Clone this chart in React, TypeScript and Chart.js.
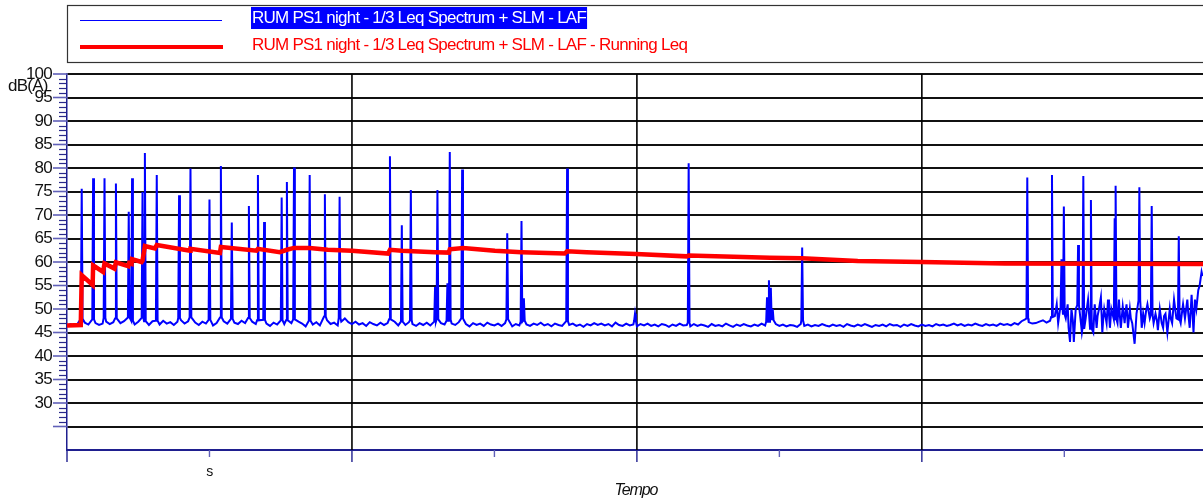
import React, { useEffect, useRef } from 'react';
import { Chart, registerables } from 'chart.js';

Chart.register(...registerables);

// ---------- DATA (time in minutes, level in dB(A)) ----------
const X_MIN = 0;
const X_MAX = 239.2;
const Y_MIN = 20;
const Y_MAX = 100;

const xTickValues = [0, 30, 60, 90, 120, 150, 180, 210];
const xTickLabels: Record<number, string> = { 30: 's' };
const yHiddenLabels = [20, 25];

const LEGEND_LAF = 'RUM PS1 night - 1/3 Leq Spectrum + SLM - LAF';
const LEGEND_LEQ = 'RUM PS1 night - 1/3 Leq Spectrum + SLM - LAF - Running Leq';
const Y_TITLE = 'dB(A)';
const X_TITLE = 'Tempo';

// LAF background level, one reading every 0.75 min from t = 0 to 207
const BASE_STEP = 0.75;
const lafBaseline = [
  46.4, 46.8, 46.5, 46.9, 46.6, 47.1, 46.7, 46.5, 47.0, 46.6,
  46.9, 47.3, 46.8, 47.2, 46.6, 47.0, 47.4, 46.9, 47.2, 46.7,
  47.3, 46.8, 47.1, 46.6, 47.4, 47.0, 46.7, 47.5, 46.9, 47.2,
  46.6, 47.3, 47.6, 46.9, 47.4, 46.8, 47.1, 46.6, 47.3, 46.9,
  47.2, 46.5, 47.0, 46.7, 47.4, 46.9, 46.4, 47.1, 46.8, 47.5,
  47.0, 46.6, 47.3, 46.8, 46.5, 47.2, 46.9, 46.4, 47.1, 46.7,
  47.4, 46.8, 46.5, 47.0, 46.6, 47.3, 46.9, 46.3, 47.0, 46.7,
  47.2, 46.5, 46.9, 47.6, 46.8, 47.1, 46.5, 47.3, 48.0, 47.2,
  46.8, 47.3, 46.7, 47.0, 46.4, 47.2, 46.8, 46.5, 47.1, 46.6,
  47.0, 46.7, 47.3, 46.5, 46.9, 46.6, 47.2, 46.8, 46.4, 47.0,
  46.6, 47.1, 46.5, 46.9, 46.3, 47.0, 46.7, 46.4, 46.9, 46.6,
  47.2, 46.5, 46.8, 46.3, 47.0, 46.6, 46.9, 46.4, 47.1, 46.7,
  46.5, 46.9, 46.4, 47.0, 46.6, 46.3, 46.8, 46.5, 47.2, 46.7,
  46.4, 46.9, 46.6, 47.1, 46.5, 46.8, 46.3, 46.9, 46.6, 46.4,
  47.0, 46.6, 46.9, 46.4, 46.7, 46.2, 46.8, 46.5, 47.0, 46.6,
  46.9, 46.5, 46.8, 46.3, 47.1, 46.6, 46.4, 46.9, 46.5, 46.7,
  46.3, 46.8, 46.5, 46.9, 46.4, 46.7, 46.3, 46.8, 46.6, 46.2,
  46.7, 46.4, 46.9, 46.5, 46.6, 46.3, 46.8, 46.4, 46.7, 46.5,
  46.2, 46.8, 46.4, 46.6, 46.3, 46.9, 46.5, 46.2, 46.7, 46.4,
  46.8, 46.5, 46.3, 46.7, 46.4, 46.9, 46.5, 46.6, 46.2, 46.8,
  46.4, 46.7, 46.3, 46.6, 46.5, 46.2, 46.8, 46.4, 46.7, 46.3,
  46.6, 46.4, 46.8, 46.5, 46.3, 46.7, 46.4, 46.6, 46.2, 46.8,
  46.5, 46.3, 46.7, 46.4, 46.8, 46.5, 46.2, 46.6, 46.4, 46.7,
  46.3, 46.8, 46.5, 46.6, 46.2, 46.7, 46.4, 46.8, 46.5, 46.3,
  46.7, 46.4, 46.6, 46.3, 46.8, 46.5, 46.7, 46.4, 46.6, 46.9,
  46.5, 46.8, 46.4, 46.7, 46.5, 46.9, 46.6, 46.4, 46.8, 46.5,
  46.7, 46.4, 46.9, 46.6, 46.8, 46.5, 47.0, 46.7, 47.4, 47.8,
  47.2, 46.9, 47.0, 47.3, 47.6, 47.1, 47.5,
];

// LAF noisy final part (t > 207)
const lafTailT = [
  208.0, 208.4, 208.7, 209.1, 210.3, 210.5, 210.7, 210.9, 211.2, 211.5,
  211.8, 212.0, 212.4, 213.5, 213.7, 214.5, 214.8, 215.0, 215.4, 216.1,
  216.4, 216.8, 217.0, 217.3, 217.7, 218.0, 218.2, 218.4, 218.9, 219.2,
  219.4, 219.6, 219.9, 220.3, 221.2, 221.5, 221.7, 221.9, 222.3, 222.7,
  222.9, 223.1, 223.4, 223.8, 224.0, 224.3, 224.8, 225.2, 225.5, 226.3,
  226.6, 226.9, 227.2, 227.5, 228.0, 228.8, 229.2, 229.5, 229.7, 230.1,
  230.5, 230.8, 231.0, 231.3, 231.7, 232.2, 232.4, 232.7, 233.1, 233.6,
  234.5, 234.8, 235.0, 235.4, 235.9, 236.1, 236.4, 236.8, 237.2, 237.5,
  237.8, 238.2, 238.5, 238.9, 239.1,
];
const lafTailV = [
  48.5, 51.0, 47.0, 50.0, 48.0, 49.5, 51.0, 46.0, 43.0, 50.0,
  47.5, 43.0, 50.0, 47.0, 45.0, 48.0, 50.5, 52.0, 47.0, 45.0,
  51.0, 46.0, 48.5, 50.0, 52.5, 45.0, 48.0, 50.0, 47.0, 52.0,
  49.0, 46.0, 50.0, 48.0, 47.0, 52.0, 48.5, 46.0, 50.5, 47.0,
  49.5, 51.0, 46.0, 50.0, 48.0, 47.0, 42.6, 49.0, 51.0, 46.0,
  49.0, 47.0, 49.5, 51.0, 48.0, 47.0, 49.0, 47.5, 45.5, 50.0,
  47.0, 46.0, 48.5, 49.0, 45.0, 50.0, 48.0, 47.0, 52.0, 48.0,
  47.0, 49.5, 51.0, 48.0, 52.0, 49.0, 46.0, 53.0, 45.0, 52.0,
  50.0, 54.0, 55.0, 57.9, 57.0,
];

// LAF peaks (time, level)
const lafPeakT = [
  3.1, 5.5, 7.9, 10.3, 13.0, 13.7, 15.9, 16.4, 18.9, 23.6,
  26.0, 30.0, 32.4, 34.7, 38.3, 40.2, 41.5, 45.2, 46.3, 47.8,
  51.1, 54.3, 57.4, 68.0, 70.5, 72.4, 77.5, 78.0, 80.1, 80.6,
  83.2, 92.7, 95.7, 96.2, 105.3, 119.6, 130.9, 147.4, 147.8, 148.2,
  148.6, 154.8, 202.2, 207.4, 209.4, 209.9, 212.9, 214.0, 215.6, 220.6,
  220.8, 225.8, 228.4, 234.1,
];
const lafPeakV = [
  75.6, 77.8, 77.8, 76.7, 70.7, 77.8, 74.9, 83.2, 78.5, 74.2,
  79.9, 73.3, 80.4, 68.4, 71.9, 78.5, 68.5, 73.7, 77.0, 80.1,
  78.5, 74.4, 73.9, 82.5, 67.8, 75.3, 54.7, 75.3, 55.5, 83.4,
  79.7, 66.1, 68.7, 52.3, 79.9, 49.0, 81.0, 52.5, 56.1, 54.5,
  50.0, 63.1, 78.0, 78.5, 60.6, 71.8, 63.6, 78.3, 73.2, 69.3,
  76.2, 75.9, 71.9, 65.5,
];

// Running Leq
const leqT = [
  0, 2.9, 3.1, 5.4, 5.5, 7.6, 7.9, 10.0, 10.3, 12.9,
  13.1, 13.6, 13.7, 15.7, 15.9, 16.4, 18.5, 18.9, 25.9, 26.0,
  32.2, 32.4, 39.9, 40.2, 44.8, 46.3, 47.8, 51.1, 54.9, 60.0,
  67.6, 68.0, 70.5, 77.5, 80.4, 80.6, 83.4, 90.1, 95.7, 104.8,
  105.3, 109.4, 119.8, 130.5, 130.9, 148.0, 154.7, 166.5, 179.9, 197.5,
  239.2,
];
const leqV = [
  46.5, 46.6, 57.2, 55.1, 59.3, 57.9, 59.7, 58.6, 59.9, 59.1,
  59.8, 59.6, 60.6, 60.0, 60.3, 63.4, 62.9, 63.6, 62.4, 62.8,
  61.9, 63.2, 62.4, 62.8, 62.1, 62.6, 63.0, 63.0, 62.6, 62.4,
  61.8, 62.6, 62.4, 62.1, 62.0, 62.7, 63.0, 62.4, 62.1, 61.8,
  62.3, 62.1, 61.7, 61.2, 61.4, 60.9, 60.8, 60.2, 60.0, 59.7,
  59.6,
];

// ---------- build datasets from the arrays ----------
function buildLaf() {
  const pts: { x: number; y: number }[] = [];
  lafBaseline.forEach((v, i) => pts.push({ x: i * BASE_STEP, y: v }));
  lafTailT.forEach((t, i) => pts.push({ x: t, y: lafTailV[i] }));
  const kept = pts.filter((p) => !lafPeakT.some((t) => Math.abs(p.x - t) < 0.3));
  const out = kept.slice();
  lafPeakT.forEach((t, i) => {
    let near = kept[0];
    kept.forEach((p) => {
      if (Math.abs(p.x - t) < Math.abs(near.x - t)) near = p;
    });
    out.push({ x: t - 0.18, y: near.y + 0.8 });
    out.push({ x: t, y: lafPeakV[i] });
    out.push({ x: t + 0.18, y: near.y + 0.8 });
  });
  out.sort((a, b) => a.x - b.x);
  return out;
}
const leqData = leqT.map((t, i) => ({ x: t, y: leqV[i] }));

const FONT = '"Liberation Sans", Arial, Helvetica, sans-serif';
const NAVY = '#1f1f8f';

const decorPlugin = {
  id: 'decor',
  beforeDraw(chart: any) {
    chart.ctx.letterSpacing = '-0.75px';
  },
  beforeDatasetsDraw(chart: any) {
    const { ctx, chartArea } = chart;
    const x = chart.scales.x;
    ctx.save();
    ctx.strokeStyle = '#000';
    ctx.lineWidth = 1.6;
    xTickValues.forEach((v) => {
      if (v === 0 || v % 60 !== 0) return;
      const px = x.getPixelForValue(v);
      ctx.beginPath();
      ctx.moveTo(px, chartArea.top);
      ctx.lineTo(px, chartArea.bottom);
      ctx.stroke();
    });
    ctx.restore();
  },
  afterDraw(chart: any) {
    const { ctx, chartArea } = chart;
    const x = chart.scales.x;
    const y = chart.scales.y;
    const L = chartArea.left;
    const B = chartArea.bottom;
    ctx.save();
    const seg = (x1: number, y1: number, x2: number, y2: number) => {
      ctx.beginPath();
      ctx.moveTo(x1, y1);
      ctx.lineTo(x2, y2);
      ctx.stroke();
    };
    // y minor ticks
    ctx.strokeStyle = '#2a2a8a';
    ctx.lineWidth = 1.2;
    for (let v = 26; v < Y_MAX; v++) {
      if (v % 5 === 0) continue;
      const py = Math.round(y.getPixelForValue(v)) + 0.5;
      seg(L - 8, py, L - 1, py);
    }
    // y major ticks
    ctx.strokeStyle = '#6060b8';
    ctx.lineWidth = 1.6;
    for (let v = 25; v <= Y_MAX; v += 5) {
      const py = y.getPixelForValue(v);
      seg(L - 14, py, L, py);
    }
    // x ticks
    xTickValues.forEach((v) => {
      const px = x.getPixelForValue(v);
      const major = v % 60 === 0;
      ctx.strokeStyle = major ? NAVY : '#6060b8';
      ctx.lineWidth = 1.4;
      seg(px, B, px, B + (major ? 12 : 7));
    });
    // legend box
    ctx.strokeStyle = '#333';
    ctx.lineWidth = 1.2;
    ctx.strokeRect(67.5, 5.5, 1150, 57);
    ctx.strokeStyle = '#0000ff';
    ctx.lineWidth = 1.2;
    seg(80, 20.5, 222, 20.5);
    ctx.strokeStyle = '#ff0000';
    ctx.lineWidth = 4;
    seg(80, 47, 223, 47);
    ctx.font = '17px ' + FONT;
    ctx.letterSpacing = '-0.75px';
    ctx.textBaseline = 'middle';
    ctx.textAlign = 'left';
    const w1 = ctx.measureText(LEGEND_LAF).width;
    ctx.fillStyle = '#0000ff';
    ctx.fillRect(251, 7, w1 + 2, 22);
    ctx.fillStyle = '#ffffff';
    ctx.fillText(LEGEND_LAF, 252, 18);
    ctx.fillStyle = '#ff0000';
    ctx.fillText(LEGEND_LEQ, 252, 45);
    // axis titles
    ctx.fillStyle = '#111';
    ctx.font = '17px ' + FONT;
    ctx.fillText(Y_TITLE, 8, 86);
    ctx.font = 'italic 16px ' + FONT;
    ctx.letterSpacing = '-1.1px';
    ctx.textAlign = 'center';
    ctx.fillText(X_TITLE, (chartArea.left + chartArea.right) / 2 + 1, 491);
    ctx.restore();
  },
};

export default function App() {
  const ref = useRef<HTMLCanvasElement | null>(null);
  useEffect(() => {
    document.body.style.margin = '0';
    const canvas = ref.current;
    if (!canvas) return;
    const chart = new Chart(canvas, {
      type: 'line',
      data: {
        datasets: [
          {
            label: LEGEND_LEQ,
            data: leqData,
            borderColor: '#ff0000',
            borderWidth: 4.5,
            pointRadius: 0,
            tension: 0,
            order: 0,
          },
          {
            label: LEGEND_LAF,
            data: buildLaf(),
            borderColor: '#0000ff',
            borderWidth: 2,
            pointRadius: 0,
            tension: 0,
            order: 1,
          },
        ],
      },
      options: {
        responsive: false,
        animation: false,
        devicePixelRatio: 1,
        layout: { padding: { top: 74, left: 0, right: 0, bottom: 0 } },
        plugins: { legend: { display: false }, tooltip: { enabled: false } },
        scales: {
          x: {
            type: 'linear',
            min: X_MIN,
            max: X_MAX,
            afterBuildTicks: (s: any) => {
              s.ticks = xTickValues.map((v) => ({ value: v }));
            },
            afterFit: (s: any) => {
              s.height = 54;
              s.paddingLeft = 0;
              s.paddingRight = 0;
            },
            border: { color: NAVY, width: 2 },
            grid: { display: false, drawTicks: false },
            ticks: {
              padding: 14,
              maxRotation: 0,
              autoSkip: false,
              color: '#111',
              font: { family: FONT, size: 14 },
              callback: (v: any) => xTickLabels[Number(v)] || '',
            },
          },
          y: {
            type: 'linear',
            min: Y_MIN,
            max: Y_MAX,
            afterFit: (s: any) => {
              s.width = 67;
            },
            border: { color: NAVY, width: 1.5 },
            grid: {
              drawTicks: false,
              lineWidth: 2,
              color: (c: any) => {
                const v = c.tick ? c.tick.value : 0;
                return v === Y_MIN ? 'rgba(0,0,0,0)' : '#111';
              },
            },
            ticks: {
              stepSize: 5,
              padding: 15,
              autoSkip: false,
              color: '#111',
              font: { family: FONT, size: 17 },
              callback: (v: any) => (yHiddenLabels.includes(Number(v)) ? '' : String(v)),
            },
          },
        },
      },
      plugins: [decorPlugin],
    });
    return () => chart.destroy();
  }, []);
  return <canvas ref={ref} width={1203} height={504} style={{ display: 'block' }} />;
}
